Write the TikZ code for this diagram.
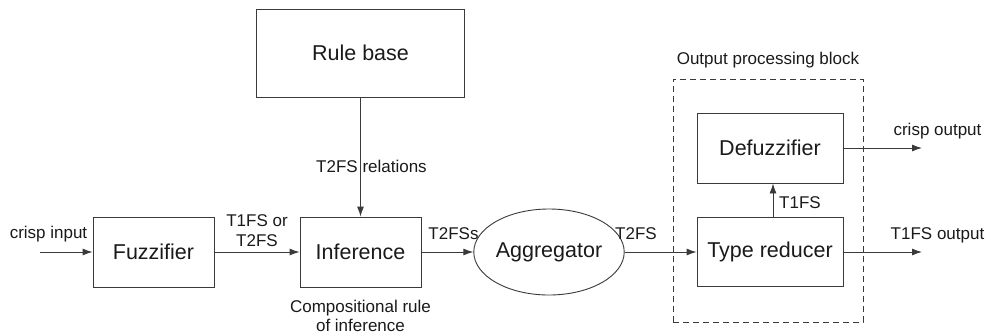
\documentclass[tikz,border=0pt]{standalone}
\usepackage{fontspec}
\setmainfont{Liberation Sans}
\usetikzlibrary{shapes.geometric,arrows.meta}
\definecolor{ln}{HTML}{3A3A3A}
\definecolor{tx}{HTML}{1A1A1A}
\tikzset{
  blk/.style={draw=ln,line width=0.9pt,rectangle,inner sep=0pt,text=tx,font=\fontsize{21.5}{25}\selectfont},
  lbl/.style={text=tx,inner sep=0pt,align=center,font=\fontsize{17}{20}\selectfont},
  arr/.style={draw=ln,line width=0.9pt,-{Latex[length=10pt,width=7pt]}}
}
\begin{document}
\begin{tikzpicture}[x=1pt,y=-1pt]
\useasboundingbox (0,0) rectangle (991,335);
\node[blk,minimum width=121pt,minimum height=70pt] (fuz) at (153.5,252) {Fuzzifier};
\node[blk,minimum width=121pt,minimum height=70pt] (inf) at (360.5,252) {Inference};
\node[blk,minimum width=208pt,minimum height=88pt] (rb) at (360.5,53) {Rule base};
\node[blk,ellipse,minimum width=126pt,minimum height=86pt] (agg) at (549,252) {Aggregator};
\node[draw=ln,line width=0.9pt,dash pattern=on 6pt off 4pt,minimum width=190pt,minimum height=243pt,inner sep=0pt] (opb) at (768,200.5) {};
\node[blk,minimum width=146pt,minimum height=69pt] (tr) at (770,252) {Type reducer};
\node[blk,minimum width=146pt,minimum height=70pt] (def) at (770,148) {Defuzzifier};
\coordinate (cin) at (40,252);
\coordinate (cout) at (922,148);
\coordinate (tout) at (922,252);
\draw[arr] (cin) -- (fuz.west);
\draw[arr] (fuz.east) -- (inf.west);
\draw[arr] (rb.south) -- (inf.north);
\draw[arr] (inf.east) -- (agg.west);
\draw[arr] (agg.east) -- (tr.west);
\draw[arr] ([xshift=3pt]tr.north) -- ([xshift=3pt]def.south);
\draw[arr] (def.east) -- (cout);
\draw[arr] (tr.east) -- (tout);
\node[lbl] (l1) at (48.5,234) {crisp input};
\node[lbl] (l2) at (257,231) {T1FS or\\T2FS};
\node[lbl] (l3) at (371.5,166) {T2FS relations};
\node[lbl] (l4) at (453.5,234) {T2FSs};
\node[lbl] (l5) at (636,234) {T2FS};
\node[lbl,font=\fontsize{17}{19}\selectfont] (l6) at (360.5,316) {Compositional rule\\of inference};
\node[lbl] (l7) at (768,60) {Output processing block};
\node[lbl] (l8) at (800,203) {T1FS};
\node[lbl] (l9) at (937.5,131) {crisp output};
\node[lbl] (l10) at (937.5,235) {T1FS output};
\end{tikzpicture}
\end{document}
